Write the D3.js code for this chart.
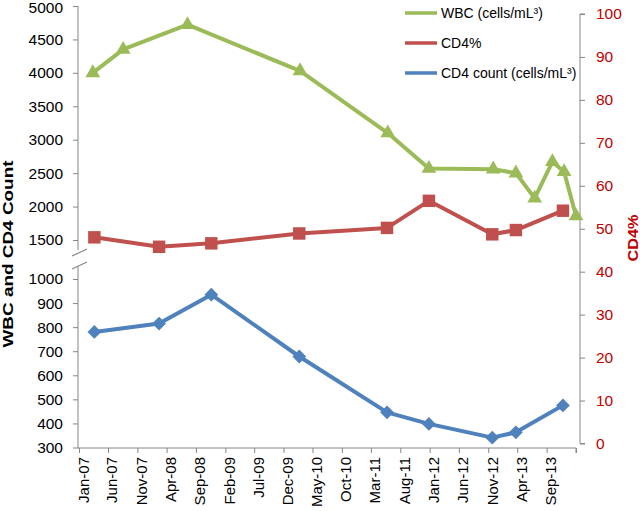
<!DOCTYPE html>
<html><head><meta charset="utf-8">
<script src="https://cdn.jsdelivr.net/npm/d3@7"></script>
<style>body{margin:0;background:#fff}svg{display:block}text{font-family:"Liberation Sans",Arial,sans-serif}</style>
</head><body><svg id="c" width="640" height="511"></svg>
<script>
// ---- data ----
const xTickLabels = ["Jan-07","Jun-07","Nov-07","Apr-08","Sep-08","Feb-09","Jul-09","Dec-09","May-10","Oct-10","Mar-11","Aug-11","Jan-12","Jun-12","Nov-12","Apr-13","Sep-13","Feb-14"];
const leftTicks = [300,400,500,600,700,800,900,1000,1500,2000,2500,3000,3500,4000,4500,5000];
const rightTicks = [0,10,20,30,40,50,60,70,80,90,100];
const wbcDates = ["2007-03-14","2007-08-19","2008-07-19","2010-02-25","2011-05-28","2011-12-28","2012-11-27","2013-03-25","2013-07-01","2013-10-01","2013-12-01","2014-02-01"];
const wbcValues = [4000,4350,4720,4030,3100,2570,2560,2500,2125,2670,2520,1860];
const cd4Dates = ["2007-03-22","2008-02-22","2008-11-20","2010-02-21","2011-05-24","2011-12-28","2012-11-22","2013-03-25","2013-11-25"];
const cd4Pct = [48.0,45.8,46.6,48.9,50.2,56.5,48.7,49.7,54.2];
const cd4Count = [780,815,935,678,446,398,341,363,475];
const seriesNames = ["WBC (cells/mL³)","CD4%","CD4 count (cells/mL³)"];

const green="#9BBB59", red="#C0504D", blue="#4F81BD", axisCol="#868686", redText="#C00000";
const svg = d3.select("#c");
const parseISO = d3.timeParse("%Y-%m-%d");
const parseTick = d3.timeParse("%b-%y");
const tickDates = xTickLabels.map(parseTick);

const x = d3.scaleTime().domain([tickDates[0], tickDates[tickDates.length-1]]).range([79,576]);
const yL = d3.scaleLinear().domain([300,1000,1500,5000]).range([447.5,279,240,6]);
const yR = d3.scaleLinear().domain([0,100]).range([443.5,14]);
const xAxisY = 448;

// left axis
const gL = svg.append("g").attr("transform","translate(78,0)")
  .call(d3.axisLeft(yL).tickValues(leftTicks).tickSize(5).tickPadding(10).tickFormat(d3.format("d")));
gL.select(".domain").remove();
gL.selectAll(".tick line").attr("stroke",axisCol);
gL.selectAll(".tick text").attr("fill","#000").style("font-size","15.5px")
  .attr("dy",d=> d===5000 ? "0.42em" : "0.32em");
svg.append("line").attr("x1",78).attr("x2",78).attr("y1",yL(5000)).attr("y2",250).attr("stroke",axisCol);
svg.append("line").attr("x1",78).attr("x2",78).attr("y1",266).attr("y2",xAxisY).attr("stroke",axisCol);
[252,265].forEach(cy=>{
  svg.append("line").attr("x1",72).attr("y1",cy+4).attr("x2",87).attr("y2",cy-3).attr("stroke",axisCol).attr("stroke-width",1.2);
});

// right axis
const gR = svg.append("g").attr("transform","translate(580,0)")
  .call(d3.axisRight(yR).tickValues(rightTicks).tickSize(5).tickPadding(11));
gR.select(".domain").attr("stroke",axisCol).attr("d",`M5,${yR(100)}H0V${yR(0)}H5`);
gR.selectAll(".tick line").attr("stroke",axisCol);
gR.selectAll(".tick text").attr("fill",redText).style("font-size","15.5px");

// bottom axis
const gB = svg.append("g").attr("transform",`translate(0,${xAxisY})`)
  .call(d3.axisBottom(x).tickValues(tickDates).tickSize(5)
    .tickFormat((d,i)=> i===xTickLabels.length-1 ? "" : xTickLabels[i]));
gB.select(".domain").attr("stroke",axisCol).attr("d",`M78,0H${x.range()[1]}V5`);
gB.selectAll(".tick line").attr("stroke",axisCol);
gB.selectAll(".tick text").attr("fill","#000").style("font-size","15px")
  .attr("text-anchor","end").attr("transform","rotate(-90)")
  .attr("x",-9).attr("y",0).attr("dy","0.6em");

// axis titles
svg.append("text").attr("transform","translate(13,254) rotate(-90)").attr("text-anchor","middle")
  .style("font-size","14px").style("font-weight","bold").attr("fill","#000")
  .attr("textLength",187).attr("lengthAdjust","spacingAndGlyphs").text("WBC and CD4 Count");
svg.append("text").attr("transform","translate(638,238) rotate(-90)").attr("text-anchor","middle")
  .style("font-size","15px").style("font-weight","bold").attr("fill",redText)
  .attr("textLength",47).attr("lengthAdjust","spacingAndGlyphs").text("CD4%");

// series
function drawSeries(dates, values, yScale, color, symType, size, rot){
  const pts = dates.map((d,i)=>[x(parseISO(d)), yScale(values[i])]);
  svg.append("path").attr("d",d3.line()(pts)).attr("fill","none").attr("stroke",color)
    .attr("stroke-width",4).attr("stroke-linejoin","round");
  svg.append("g").selectAll("path").data(pts).join("path")
    .attr("d",d3.symbol().type(symType).size(size))
    .attr("transform",p=>`translate(${p[0]},${p[1]})${rot?" rotate(45)":""}`)
    .attr("fill",color);
}
drawSeries(wbcDates, wbcValues, yL, green, d3.symbolTriangle, 95, false);
drawSeries(cd4Dates, cd4Pct, yR, red, d3.symbolSquare, 155, false);
drawSeries(cd4Dates, cd4Count, yL, blue, d3.symbolSquare, 95, true);

// legend
const legend = svg.append("g");
[green,red,blue].forEach((c,i)=>{
  const ly = 13 + i*30;
  legend.append("line").attr("x1",405).attr("x2",437).attr("y1",ly).attr("y2",ly).attr("stroke",c).attr("stroke-width",3.5);
  legend.append("text").attr("x",441).attr("y",ly).attr("dy","0.35em").style("font-size","14px").attr("fill","#000").text(seriesNames[i]);
});
</script></body></html>
